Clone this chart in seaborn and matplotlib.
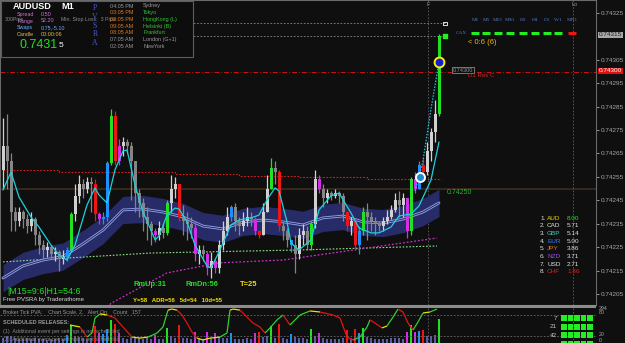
import numpy as np
import pandas as pd
import matplotlib
matplotlib.use('Agg')
import matplotlib.pyplot as plt
import seaborn as sns
from matplotlib.collections import LineCollection
from matplotlib.patches import Rectangle
from matplotlib.lines import Line2D

# ---------------- data (prices in points of 0.00001) ----------------
first_open = 74258
close_pts = [74268, 74262, 74240, 74236, 74240, 74237, 74234, 74237, 74230, 74226,
             74224, 74225, 74222, 74223, 74220, 74221, 74224, 74239, 74247, 74252,
             74250, 74253, 74252, 74239, 74237, 74238, 74261, 74281, 74262, 74268,
             74270, 74268, 74262, 74248, 74244, 74238, 74235, 74232, 74230, 74233,
             74231, 74244, 74250, 74252, 74238, 74236, 74235, 74233, 74222, 74224,
             74222, 74216, 74219, 74216, 74226, 74232, 74238, 74242, 74236, 74234,
             74236, 74238, 74237, 74232, 74230, 74240, 74250, 74259, 74257, 74234,
             74232, 74228, 74226, 74222, 74230, 74232, 74226, 74235, 74254, 74250,
             74246, 74248, 74247, 74248, 74247, 74240, 74234, 74236, 74226, 74232,
             74240, 74238, 74236, 74235, 74234, 74236, 74238, 74241, 74245, 74243,
             74246, 74232, 74254, 74250, 74260, 74257, 74266, 74274, 74282, 74315]
high_pts = [74280, 74282, 74265, 74242, 74242, 74241, 74239, 74240, 74238, 74232,
            74228, 74227, 74226, 74225, 74224, 74224, 74225, 74240, 74252, 74256,
            74254, 74255, 74255, 74254, 74240, 74240, 74262, 74284, 74283, 74271,
            74272, 74271, 74270, 74262, 74250, 74246, 74242, 74236, 74233, 74236,
            74235, 74245, 74256, 74255, 74252, 74243, 74240, 74238, 74236, 74226,
            74226, 74223, 74223, 74220, 74228, 74236, 74242, 74243, 74244, 74238,
            74240, 74242, 74240, 74238, 74232, 74244, 74256, 74263, 74262, 74258,
            74236, 74233, 74228, 74230, 74233, 74235, 74234, 74236, 74258, 74256,
            74252, 74250, 74249, 74250, 74249, 74248, 74240, 74238, 74237, 74234,
            74242, 74244, 74240, 74238, 74236, 74238, 74241, 74243, 74248, 74249,
            74248, 74246, 74255, 74257, 74262, 74263, 74270, 74276, 74288, 74316]
low_pts = [74250, 74250, 74232, 74232, 74234, 74233, 74231, 74232, 74226, 74222,
           74220, 74221, 74220, 74219, 74215, 74218, 74219, 74223, 74236, 74244,
           74246, 74248, 74240, 74236, 74235, 74235, 74236, 74260, 74260, 74260,
           74264, 74265, 74245, 74240, 74238, 74232, 74228, 74226, 74227, 74228,
           74229, 74230, 74240, 74246, 74236, 74230, 74228, 74229, 74219, 74218,
           74219, 74213, 74212, 74214, 74214, 74224, 74230, 74236, 74232, 74230,
           74232, 74234, 74234, 74230, 74229, 74230, 74240, 74250, 74252, 74232,
           74228, 74225, 74223, 74214, 74220, 74226, 74224, 74224, 74233, 74248,
           74242, 74244, 74245, 74246, 74244, 74236, 74232, 74230, 74224, 74222,
           74230, 74228, 74232, 74230, 74232, 74232, 74235, 74237, 74240, 74238,
           74238, 74229, 74230, 74248, 74250, 74255, 74256, 74262, 74270, 74281]
kind = list("nnnnnnnnnn" "nnnnnnbgnn" "nnnrmbbgrm" "nnnnnnnnmn" "ngnnrnnnmn"
            "nmnmnnnbnn" "nnnmrnngnr" "nnbnnnngnm" "nnnnnnrnrb" "gnnnnnnnnn" "nmgmbrnnng")
volume = [45, 60, 55, 40, 35, 30, 38, 32, 40, 36, 30, 28, 34, 30, 42, 36, 70, 150, 60, 48,
          40, 35, 45, 140, 80, 75, 120, 190, 160, 85, 40, 35, 50, 45, 38, 36, 40, 35, 70, 32,
          30, 130, 55, 40, 150, 42, 38, 36, 90, 40, 35, 95, 45, 85, 50, 44, 40, 80, 36, 34,
          32, 38, 35, 80, 90, 48, 55, 140, 45, 160, 40, 36, 75, 50, 44, 38, 35, 120, 60, 85,
          40, 35, 30, 32, 34, 42, 110, 40, 120, 85, 130, 50, 38, 34, 30, 32, 36, 38, 44, 40,
          36, 90, 150, 95, 100, 110, 55, 60, 70, 200]

cyan_idx = [0, 2, 4, 7, 9, 12, 14, 16, 18, 21, 23, 24, 26, 28, 30, 31, 33, 35, 37, 38,
            39, 41, 43, 44, 46, 48, 51, 52, 54, 57, 59, 62, 64, 66, 68, 69, 71, 72, 74, 77,
            79, 82, 84, 87, 89, 92, 94, 97, 99, 102, 104, 107, 109]
cyan_pts = [74249.4, 74257.1, 74246.4, 74237.9, 74233.6, 74225.9, 74221.7, 74219.5, 74225.9, 74243.0,
            74250.3, 74247.3, 74243.9, 74258.0, 74266.1, 74266.5, 74251.6, 74240.0, 74232.3, 74228.1,
            74229.8, 74238.7, 74241.7, 74241.3, 74235.8, 74225.9, 74217.0, 74216.1, 74223.0, 74234.5,
            74236.6, 74237.5, 74238.7, 74245.2, 74250.3, 74249.0, 74235.8, 74226.8, 74223.8, 74228.1,
            74240.9, 74246.9, 74248.1, 74239.6, 74233.2, 74231.1, 74231.1, 74233.6, 74238.3, 74239.2,
            74242.6, 74253.7, 74269.9]
proj_idx = [103, 104, 105, 106, 107, 108, 109]
proj_pts = [74249, 74255, 74262, 74273, 74284, 74294, 74304]

band_idx = [0, 5, 10, 15, 20, 25, 30, 35, 40, 45, 50, 55, 60, 65, 70, 75, 80, 85, 90, 95, 100, 105, 109]
band_pts = [74211.8, 74217.0, 74219.5, 74221.0, 74226.4, 74232.3, 74240.9, 74241.3, 74240.0, 74237.9,
            74234.0, 74232.8, 74235.8, 74236.6, 74235.8, 74234.5, 74237.5, 74238.3, 74235.8, 74235.3,
            74237.0, 74240.0, 74243.9]
band_half = 5.8

red_idx = [0, 14, 43, 59, 74, 91, 109.5]
red_pts = [74258, 74257.2, 74256.3, 74255.4, 74255, 74254.1, 74254.1]
grn_idx = [0, 37, 74, 108.5]
grn_pts = [74218.7, 74222.5, 74223.8, 74225.5]
mag_idx = [24, 27, 41, 54, 70, 79, 108.5]
mag_pts = [74196, 74201, 74214, 74218.3, 74219.5, 74221.7, 74228.9]

osc_idx = [16.75, 19.25, 21, 22.25, 23, 24.25, 26, 28, 30, 32.25, 34.25, 36.25, 38.5, 40, 41.25,
           42.25, 43.5, 44.75, 46, 47.25, 48.5, 50, 51.75, 54.25, 56, 56.75, 57.5, 59.25, 61, 62.5,
           64.25, 65.5, 66.75, 68.5, 70, 71.75, 74.25, 76.75, 79.25, 82.5, 84.25, 86, 87.5, 89.25,
           91, 91.75, 93, 94.75, 96, 97.5, 98.75, 100, 101.25, 102.5, 103.75, 105, 106.75, 108.5]
osc_val = [51.5, 45.7, 17, 28.6, 71.5, 83, 80, 71.5, 45.7, 17, 14, 17, 28.6, 45.7, 94,
           97, 94, 80, 57, 31.5, 14, 8.6, 14, 17, 28.6, 94, 97, 94, 74, 57,
           45.7, 28.6, 43, 66, 80, 51.5, 80, 91.5, 88.6, 80, 71.5, 17, 8.6, 17,
           45.7, 66, 57, 43, 48.6, 74, 97, 88.6, 57, 37, 60, 85.7, 88.6, 97]

price_ticks = ["0.74325", "0.74305", "0.74295", "0.74285", "0.74275", "0.74265",
               "0.74255", "0.74245", "0.74235", "0.74225", "0.74215", "0.74205"]
tf_labels = ["M1", "M5", "M15", "M30", "H1", "H4", "D1", "W1", "MN1"]
tf_state = ["up", "up", "up", "up", "up", "up", "up", "up", "down"]
sess_times = ["04:05 PM", "03:05 PM", "03:05 PM", "09:05 AM", "08:05 AM", "07:05 AM", "02:05 AM"]
sess_names = ["Sydney", "Tokyo", "HongKong (L)", "Helsinki (B)", "Frankfurt", "London (G+1)", "NewYork"]
sess_open = [False, True, True, True, True, False, False]
cur_names = ["AUD", "CAD", "GBP", "EUR", "JPY", "NZD", "USD", "CHF"]
cur_vals = ["8.00", "5.71", "5.14", "5.00", "3.86", "3.71", "2.71", "1.86"]

# ---------------- setup ----------------
P = 1e-5
W, H = 625, 343
BG = '#0f0f0f'
sns.set_style('dark')
plt.rcParams['font.family'] = ['Liberation Sans', 'DejaVu Sans']


def fx(x):
    return x / W


def fy(y):
    return 1 - y / H


df = pd.DataFrame({'close': np.array(close_pts) * P, 'high': np.array(high_pts) * P,
                   'low': np.array(low_pts) * P, 'kind': kind, 'vol': volume})
df['idx'] = np.arange(len(df))
df['open'] = np.concatenate([[first_open * P], df['close'].values[:-1]])
palette = {'g': '#22e022', 'r': '#ee1515', 'b': '#1e8fff', 'm': '#d22ee8'}


def ccol(row):
    if row['kind'] in palette:
        return palette[row['kind']]
    return '#d0d0d0' if row['close'] >= row['open'] else '#858585'


df['col'] = df.apply(ccol, axis=1)
df['vcol'] = [palette.get(k, '#5c5ca4') for k in df['kind']]

fig = plt.figure(figsize=(6.25, 3.43), dpi=100, facecolor=BG)
ax = fig.add_axes([0, fy(305), fx(596), 305 / H])
ax.set_facecolor(BG)
XL = (-0.75, 148.25)
ax.set_xlim(*XL)
ax.set_ylim(0.7420030, 0.7433055)
for s in ax.spines.values():
    s.set_color('#6a6a6a')
    s.set_linewidth(0.8)
ax.grid(False)

# horizontal levels
ax.axhline(0.74250, color='#3a2a1c', lw=1.3, zorder=1)
ax.plot([-0.75, 148.25], [0.74300, 0.74300], color='#d01010', lw=0.7, ls=(0, (5, 2, 1, 2)), zorder=1)
ax.plot([-0.75, 110.5], [0.743207, 0.743207], color='#8a8a8a', lw=0.6, ls=(0, (2, 2)), zorder=1)
ax.plot([-0.75, 110.5], [0.743152, 0.743152], color='#8a8a8a', lw=0.6, ls=(0, (2, 2)), zorder=1)
ax.scatter([110.5], [0.743207], marker='s', s=5, facecolor='none', edgecolor='white', lw=0.6, zorder=5)
ax.scatter([110.5], [0.743152], marker='s', s=6, color='#22ee22', zorder=5)
for xv in (106.25, 142.5):
    ax.axvline(xv, color='#5e5e5e', lw=0.6, ls=(0, (2, 2)), zorder=1)

# band
bi = np.array(band_idx)
bc = np.array(band_pts) * P
ax.fill_between(bi, bc - band_half * P, bc + band_half * P, color='#272c68', lw=0, zorder=2)
sns.lineplot(x=bi, y=bc, ax=ax, color='#8d9ce4', lw=2.0, zorder=3)
ax.plot(bi, bc, color='#1b1f4e', lw=0.6, zorder=3)

# dotted guides
ax.plot(red_idx, np.array(red_pts) * P, color='#d42020', lw=0.8, ls=(0, (1.5, 1.5)), drawstyle='steps-post', zorder=2)
ax.plot(grn_idx, np.array(grn_pts) * P, color='#8fe08f', lw=0.8, ls=(0, (1.5, 1.5)), zorder=2)
ax.plot(mag_idx, np.array(mag_pts) * P, color='#c832c8', lw=0.9, ls=(0, (1.5, 1.5)), zorder=2)

# candles
ax.vlines(df['idx'], df['low'], df['high'], colors=df['col'], lw=0.9, zorder=4)
body_lo = np.minimum(df['open'], df['close'])
body_h = np.maximum(np.abs(df['close'] - df['open']), 0.35 * P)
ax.bar(df['idx'], body_h, bottom=body_lo, width=0.75, color=df['col'], lw=0, zorder=4)

# cyan MA and projection
sns.lineplot(x=cyan_idx, y=np.array(cyan_pts) * P, ax=ax, color='#1ed2dc', lw=0.9, zorder=6)
ax.plot(proj_idx, np.array(proj_pts) * P, color='#1ec8e6', lw=0.9, ls=(0, (1.2, 1.2)), zorder=6)
ax.scatter([104.3], [0.74255], s=42, facecolor='#1a8fd0', edgecolor='white', lw=1.4, zorder=7)
ax.scatter([109], [0.74304], s=50, facecolor='#1020d8', edgecolor='#ffee00', lw=1.4, zorder=7)

# right price axis
ax.yaxis.tick_right()
ax.set_yticks([float(t) for t in price_ticks])
ax.set_yticklabels(price_ticks)
ax.tick_params(axis='y', colors='#a8a8a8', labelsize=4.6, length=2, width=0.6, pad=1.5)
ax.set_xticks([])
ax.set_xlabel('')
ax.set_ylabel('')
fig.text(fx(599), fy(35), "0.74315", fontsize=4.6, color='#202020', va='center', ha='left',
         bbox=dict(boxstyle='square,pad=0.15', fc='#a8a8a8', ec='none'))
fig.text(fx(599), fy(71), "0.74300", fontsize=4.6, color='white', va='center', ha='left',
         bbox=dict(boxstyle='square,pad=0.15', fc='#e01010', ec='none'))
fig.text(fx(447), fy(192), "0.74250", fontsize=5, color='#2fb42f', va='center', ha='left')
fig.text(fx(453), fy(70), "0.74300", fontsize=4, color='#909090', va='center', ha='left',
         bbox=dict(boxstyle='square,pad=0.15', fc=BG, ec='#a0a0a0', lw=0.5))
fig.text(fx(468), fy(75.5), "D1 Res C", fontsize=4.4, color='#d82020', va='center', ha='left')
fig.text(fx(428), fy(5), "F", fontsize=4, color='#909090', va='center', ha='center')
fig.text(fx(575), fy(5), "Lo", fontsize=4, color='#909090', va='center', ha='center')

# timeframe panel
tf_x = [475, 486, 498, 510, 523, 535, 547, 558, 572]
for lab, xx, st in zip(tf_labels, tf_x, tf_state):
    fig.text(fx(xx), fy(20), lab, fontsize=3.8, color='#4d7cc4', va='center', ha='center',
             family=['Liberation Serif', 'DejaVu Serif'])
    fig.add_artist(Line2D([fx(xx - 4), fx(xx + 4)], [fy(33), fy(33)],
                          color='#22ee22' if st == 'up' else '#ee1515', lw=2.2, solid_capstyle='butt'))
fig.text(fx(456), fy(33), "CAX", fontsize=3.8, color='#4d7cc4', va='center', ha='left',
         family=['Liberation Serif', 'DejaVu Serif'])
fig.text(fx(468), fy(43), "< 0:6 (6)", fontsize=5.5, color='#e8c000', va='center', ha='left')

# currency strength list
cur_cols = ['#e8d000', '#e0e0e0', '#40d0c0', '#2e7fff', '#e07a20', '#9a50e0', '#e0e0e0', '#e02020']
val_cols = ['#22e022'] + ['#e0e0e0'] * 6 + ['#e02020']
for k, (nm, vv) in enumerate(zip(cur_names, cur_vals)):
    yy = 218 + k * 7.7
    fig.text(fx(540), fy(yy), f"{k + 1}.", fontsize=4.6, color='#e0e0e0', va='center', ha='left')
    fig.text(fx(547), fy(yy), nm, fontsize=4.6, color=cur_cols[k], va='center', ha='left')
    fig.text(fx(567), fy(yy), vv, fontsize=4.6, color=val_cols[k], va='center', ha='left')

# bottom texts in main
fig.text(fx(7), fy(291), "|M15=9:6|H1=54:6", fontsize=6.4, color='#22e022', va='center', ha='left')
fig.text(fx(3), fy(299), "Free PVSRA by Traderathome", fontsize=4.3, color='#d8d8d8', va='center', ha='left')
fig.text(fx(133), fy(285), "RmUp:31", fontsize=5.4, color='#22e022', weight='bold', va='center', ha='left')
fig.text(fx(185), fy(285), "RmDn:56", fontsize=5.4, color='#22e022', weight='bold', va='center', ha='left')
fig.text(fx(240), fy(285), "T=25", fontsize=5.4, color='#f0e000', weight='bold', va='center', ha='left')
fig.text(fx(133), fy(301), "Y=58   ADR=56   5d=54   10d=55", fontsize=4.3, color='#f0e000', weight='bold',
         va='center', ha='left')

# info box
fig.add_artist(Rectangle((fx(1), fy(57)), fx(192), 56 / H, transform=fig.transFigure,
                         fc='#0d0d0d', ec='#5e5e5e', lw=0.8, zorder=1))
fig.text(fx(13), fy(6.5), "AUDUSD", fontsize=6.6, color='white', weight='bold', va='center', ha='left')
fig.text(fx(61), fy(6.5), "M1", fontsize=6.6, color='white', weight='bold', va='center', ha='left')
fig.text(fx(5), fy(19.5), "300Pips", fontsize=3.8, color='#8a8a8a', va='center', ha='left')
fig.text(fx(61), fy(19.5), "Min. Stop Loss:  3 Pips", fontsize=3.8, color='#8a8a8a', va='center', ha='left')
info_rows = [("Spread", "0.50", '#d070d0', 14.5), ("Range", "52.20", '#d070d0', 21),
             ("Swaps", "0.75,-5.10", '#70b0ff', 27.5), ("Candle", "00:00:06", '#e8c040', 34)]
for lab, val, col, yy in info_rows:
    fig.text(fx(17), fy(yy), lab, fontsize=3.9, color=col, va='center', ha='left')
    fig.text(fx(41), fy(yy), val, fontsize=3.9, color=col, va='center', ha='left')
fig.text(fx(20), fy(44.5), "0.7431", fontsize=9, color='#22e022', va='center', ha='left')
fig.text(fx(59), fy(45.5), "5", fontsize=6, color='white', va='center', ha='left')
for k, ch in enumerate("PVSRA"):
    fig.text(fx(95), fy(8 + k * 8.8), ch, fontsize=5.6, color='#4a58d0', va='center', ha='center',
             family=['Liberation Serif', 'DejaVu Serif'])
for k, (t, nm, op) in enumerate(zip(sess_times, sess_names, sess_open)):
    yy = 6 + k * 6.7
    tc = '#e07a20' if op else '#9a9a9a'
    nc = '#30c830' if op else '#9a9a9a'
    fig.text(fx(110), fy(yy), t, fontsize=3.9, color=tc, va='center', ha='left')
    fig.text(fx(143), fy(yy), nm, fontsize=3.9, color=nc, va='center', ha='left')

# separator
fig.add_artist(Rectangle((0, fy(308)), fx(596), 3 / H, transform=fig.transFigure,
                         fc='#8c8c8c', ec='none', zorder=1))

# ---------------- sub panel ----------------
sub = fig.add_axes([0, 0, fx(596), 35 / H])
sub.set_facecolor(BG)
sub.set_xlim(*XL)
sub.set_ylim(0, 294)
sub.bar(df['idx'], df['vol'], width=0.4, color=df['vcol'], lw=0, zorder=2)
sub.set_xticks([])
sub.set_yticks([])
for s in sub.spines.values():
    s.set_visible(False)
sub.axvline(106.25, color='#5e5e5e', lw=0.6, ls=(0, (2, 2)))
sub.axvline(142.5, color='#5e5e5e', lw=0.6, ls=(0, (2, 2)))

osc = sub.twinx()
osc.set_ylim(0, 100)
osc.set_xlim(*XL)
osc.set_yticks([])
for s in osc.spines.values():
    s.set_visible(False)
osc.axhline(80, color='#6a6a6a', lw=0.6, ls=(0, (2, 2)))
osc.axhline(20, color='#6a6a6a', lw=0.6, ls=(0, (2, 2)))
ox = np.array(osc_idx)
ov = np.array(osc_val)
segs = [[(ox[k], ov[k]), (ox[k + 1], ov[k + 1])] for k in range(len(ox) - 1)]
dv = np.diff(ov)
scol = ['#30d030' if d > 6 else ('#e01515' if d < -6 else '#e8e000') for d in dv]
osc.add_collection(LineCollection(segs, colors=scol, lw=0.9, zorder=3))

fig.text(fx(3), fy(312), "Broker Tick PVA:    Chart Scale, 2,   Alert On,   Count   157", fontsize=3.8,
         color='#9a9a9a', va='center', ha='left')
fig.text(fx(3), fy(323), "SCHEDULED RELEASES:", fontsize=3.9, color='#9a9a9a', weight='bold', va='center', ha='left')
fig.text(fx(3), fy(331), "(1)  Additional event per settings is not scheduled", fontsize=3.8,
         color='#8a8a8a', va='center', ha='left')
fig.text(fx(3), fy(339), "(2)  Additional event per settings is not scheduled", fontsize=3.8,
         color='#8a8a8a', va='center', ha='left')

for lab, yy in (("7", 318), ("21", 327), ("42", 335.5)):
    fig.text(fx(557), fy(yy), lab, fontsize=4.6, color='#c0c0c0', va='center', ha='right')
for r in range(4):
    for c in range(5):
        fig.add_artist(Rectangle((fx(561 + c * 6.6), fy(315 + r * 8.6 + 6)), fx(5.6), 6 / H,
                                 transform=fig.transFigure, fc='#22ee22', ec='none', zorder=2))
for lab, yy in (("294", 308.5), ("80", 312), ("20", 334), ("0", 341)):
    fig.text(fx(599), fy(yy), lab, fontsize=3.8, color='#a8a8a8', va='center', ha='left')

fig.savefig('out.png', dpi=100, facecolor=BG)
